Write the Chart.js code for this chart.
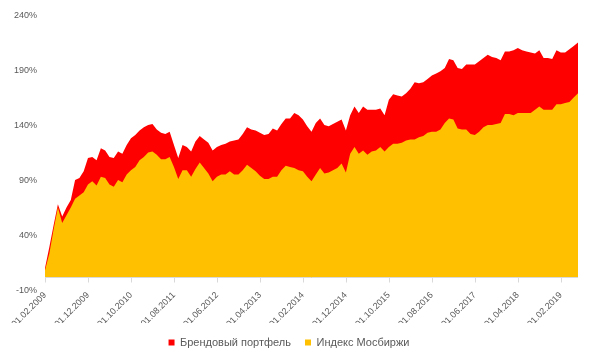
<!DOCTYPE html>
<html>
<head>
<meta charset="utf-8">
<script src="https://cdn.jsdelivr.net/npm/chart.js@4"></script>
<style>
    body { margin: 0; background: #fff; }
    #wrap { width: 601px; height: 361px; }
</style>
</head>
<body>
<div id="wrap"><canvas id="brandChart"></canvas></div>
<script>
// monthly dates, 01.02.2009 .. 01.06.2019
const labels = [];
for (let i = 0; i < 125; i++) {
    const m = (1 + i) % 12 + 1;
    const y = 2009 + Math.floor((1 + i) / 12);
    labels.push('01.' + String(m).padStart(2, '0') + '.' + y);
}

const seriesNames = ['Брендовый портфель', 'Индекс Мосбиржи'];

// cumulative return, %
const brandValues = [
    9, 28, 48, 67, 56, 64, 71, 89, 91, 97,
    109, 110, 107, 118, 116, 110, 109, 115, 113, 121,
    127, 130, 134, 137, 139, 140, 135, 132, 131, 133,
    121, 109, 121, 119, 115, 124, 129, 126, 123, 116,
    119, 121, 122, 124, 125, 126, 131, 137, 135, 134,
    132, 130, 131, 136, 134, 140, 145, 145, 150, 148,
    144, 138, 133, 141, 145, 139, 138, 140, 142, 144,
    134, 148, 156, 150, 156, 153, 153, 153, 154, 148,
    162, 167, 166, 165, 168, 172, 178, 177, 178, 181,
    184, 186, 188, 191, 199, 198, 191, 190, 194, 194,
    194, 197, 200, 203, 201, 200, 198, 206, 206, 207,
    209, 207, 206, 205, 204, 207, 200, 200, 199, 207,
    205, 205, 208, 211, 214
];
const moexValues = [
    7, 22, 44, 64, 50, 57, 64, 72, 75, 78,
    85, 88, 84, 92, 91, 85, 83, 89, 87, 94,
    98, 101, 107, 110, 114, 115, 112, 108, 108, 110,
    101, 90, 98, 98, 92, 99, 105, 100, 95, 88,
    92, 94, 94, 97, 94, 94, 98, 103, 100, 97,
    93, 90, 90, 92, 92, 98, 102, 101, 100, 98,
    97, 92, 88, 94, 100, 95, 96, 98, 100, 104,
    96, 113, 119, 113, 116, 112, 115, 116, 119, 115,
    119, 122, 122, 123, 125, 126, 126, 128, 129, 132,
    133, 133, 135, 141, 145, 144, 136, 135, 135, 131,
    130, 133, 137, 139, 139, 140, 141, 149, 149, 148,
    150, 150, 150, 150, 153, 156, 153, 153, 153, 158,
    158, 159, 160, 164, 168
];

const yTicks = { min: -10, max: 240, step: 50 };
const labelEvery = 10;

// horizontal axis crosses at 0%
const zeroAxis = {
    id: 'zeroAxis',
    afterDatasetsDraw(chart) {
        const {ctx, chartArea, scales} = chart;
        const y0 = Math.round(scales.y.getPixelForValue(0)) - 0.5;
        ctx.save();
        ctx.strokeStyle = '#d9d9d9';
        ctx.lineWidth = 1;
        ctx.beginPath();
        ctx.moveTo(chartArea.left, y0);
        ctx.lineTo(chartArea.right, y0);
        for (let i = 0; i < labels.length; i += labelEvery) {
            const x = Math.round(scales.x.getPixelForValue(i)) + 0.5;
            ctx.moveTo(x, y0);
            ctx.lineTo(x, y0 + 5);
        }
        ctx.stroke();
        ctx.restore();
    }
};

const tickFont = { family: '"Liberation Sans", Arial, sans-serif', size: 9 };

new Chart(document.getElementById('brandChart'), {
    type: 'line',
    data: {
        labels: labels,
        datasets: [{
            label: seriesNames[0],
            data: brandValues,
            backgroundColor: '#ff0000',
            borderColor: '#ff0000',
            borderWidth: 0,
            pointRadius: 0,
            fill: 'origin',
            order: 2
        }, {
            label: seriesNames[1],
            data: moexValues,
            backgroundColor: '#ffc000',
            borderColor: '#ffc000',
            borderWidth: 0,
            pointRadius: 0,
            fill: 'origin',
            order: 1
        }]
    },
    options: {
        responsive: true,
        maintainAspectRatio: false,
        animation: false,
        layout: { padding: { top: 14, right: 23, bottom: 3, left: 0 } },
        plugins: {
            legend: {
                position: 'bottom',
                labels: {
                    boxWidth: 6,
                    boxHeight: 6,
                    padding: 14,
                    color: '#595959',
                    font: { family: '"Liberation Sans", Arial, sans-serif', size: 11 },
                    sort: (a, b) => a.datasetIndex - b.datasetIndex
                }
            },
            tooltip: { enabled: false }
        },
        scales: {
            x: {
                grid: { display: false, drawTicks: false },
                border: { display: false },
                ticks: {
                    autoSkip: false,
                    minRotation: 45,
                    maxRotation: 45,
                    padding: 1,
                    color: '#595959',
                    font: tickFont,
                    callback: (v, i) => i % labelEvery === 0 ? labels[i] : ''
                },
                afterFit: (scale) => { scale.height = 34; }
            },
            y: {
                min: yTicks.min,
                max: yTicks.max,
                grid: { display: false, drawTicks: false },
                border: { display: false },
                ticks: {
                    stepSize: yTicks.step,
                    padding: 8,
                    labelOffset: 2,
                    color: '#595959',
                    font: tickFont,
                    callback: (v) => v + '%'
                },
                afterFit: (scale) => { scale.width = 45; }
            }
        }
    },
    plugins: [zeroAxis]
});
</script>
</body>
</html>
